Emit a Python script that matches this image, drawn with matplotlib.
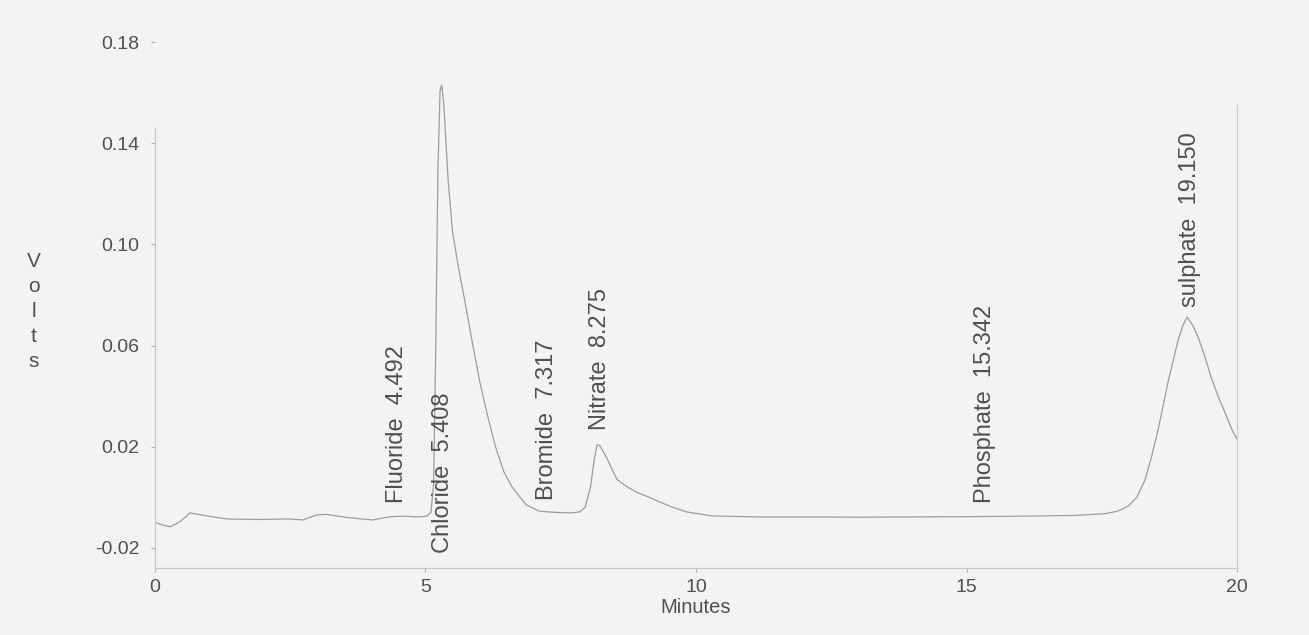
"""Chromatogramme : anions (fluorure, chlorure, bromure, nitrate, phosphate, sulfate)"""
import numpy as np
import matplotlib.pyplot as plt

# Temps de rétention (min) et signal (V)
minutes = [0.0, 0.15, 0.28, 0.46, 0.65, 0.96, 1.33, 1.9, 2.49, 2.73, 2.99, 3.17,
           3.54, 4.02, 4.34, 4.58, 4.89, 5.02, 5.1, 5.15, 5.19, 5.23, 5.27, 5.30,
           5.34, 5.42, 5.5, 5.6, 5.75, 5.85, 6.0, 6.15, 6.3, 6.45, 6.6, 6.86, 7.1,
           7.4, 7.7, 7.85, 7.95, 8.05, 8.12, 8.17, 8.22, 8.34, 8.45, 8.54, 8.7,
           8.89, 9.1, 9.32, 9.55, 9.82, 10.3, 11.16, 12.08, 13.0, 14.0, 15.0,
           16.0, 17.0, 17.56, 17.8, 17.99, 18.15, 18.3, 18.42, 18.54, 18.73,
           18.91, 19.0, 19.08, 19.18, 19.28, 19.4, 19.52, 19.65, 19.78, 19.9, 20.0]
volts = [-0.010, -0.011, -0.0117, -0.0097, -0.0062, -0.0074, -0.0086, -0.0088,
         -0.0086, -0.009, -0.007, -0.0068, -0.008, -0.009, -0.0077, -0.0075,
         -0.0078, -0.0075, -0.006, 0.005, 0.06, 0.13, 0.161, 0.163, 0.155, 0.125,
         0.105, 0.092, 0.075, 0.063, 0.046, 0.032, 0.0195, 0.010, 0.004, -0.003,
         -0.0055, -0.006, -0.0062, -0.0058, -0.004, 0.004, 0.015, 0.0207, 0.0205,
         0.016, 0.011, 0.007, 0.0045, 0.0021, 0.0003, -0.0018, -0.0038, -0.0058,
         -0.0074, -0.0078, -0.0078, -0.0079, -0.0078, -0.0077, -0.0075, -0.0072,
         -0.0065, -0.0055, -0.0035, 0.0, 0.0069, 0.016, 0.0266, 0.046, 0.062,
         0.068, 0.0713, 0.068, 0.0634, 0.056, 0.0476, 0.040, 0.0334, 0.027, 0.023]

# Pics identifiés
peak_names = ["Fluoride", "Chloride", "Bromide", "Nitrate", "Phosphate", "sulphate"]
peak_times = [4.492, 5.408, 7.317, 8.275, 15.342, 19.150]

x_ticks = [0, 5, 10, 15, 20]
y_ticks = [-0.02, 0.02, 0.06, 0.10, 0.14, 0.18]

plt.rcParams['font.family'] = ['Liberation Sans', 'DejaVu Sans']
text_color = '#505050'
bg = '#f3f3f1'

fig = plt.figure(figsize=(13.09, 6.35), dpi=100, facecolor=bg)
ax = fig.add_axes([0.1184, 0.1055, 0.8266, 0.836], facecolor=bg)

# Tracé du signal
ax.plot(minutes, volts, color='#9c9c9c', linewidth=0.9)

ax.set_xlim(0, 20)
ax.set_ylim(-0.028, 0.182)
ax.set_xticks(x_ticks)
ax.set_xticklabels([str(v) for v in x_ticks])
ax.set_yticks(y_ticks)
ax.set_yticklabels([f"{v:.2f}" for v in y_ticks])
ax.tick_params(colors='#b0b0b0', labelcolor=text_color, labelsize=14,
               length=3, width=0.8)
ax.tick_params(axis='y', pad=8)
ax.tick_params(axis='x', pad=5)

# Axes façon enregistreur
ax.spines['top'].set_visible(False)
for side in ['left', 'right', 'bottom']:
    ax.spines[side].set_color('#c8c8c8')
    ax.spines[side].set_linewidth(0.9)
ax.spines['left'].set_bounds(-0.028, 0.146)
ax.spines['right'].set_bounds(-0.028, 0.155)

ax.set_xlabel("Minutes", fontsize=14.5, color=text_color, labelpad=1)
fig.text(0.026, 0.51, "V\no\nl\nt\ns", fontsize=15, color=text_color,
         ha='center', va='center', linespacing=1.4)

# Étiquettes des pics (position : x en minutes, bas du texte en volts)
label_x = [4.47, 5.32, 7.25, 8.23, 15.34, 19.13]
label_y = [-0.0022, -0.022, -0.001, 0.0267, -0.0022, 0.0753]
for name, t, lx, ly in zip(peak_names, peak_times, label_x, label_y):
    ax.text(lx, ly, f"{name}  {t:.3f}", rotation=90, ha='center', va='bottom',
            fontsize=17, color=text_color)

fig.savefig("out.png", dpi=100, facecolor=bg)
